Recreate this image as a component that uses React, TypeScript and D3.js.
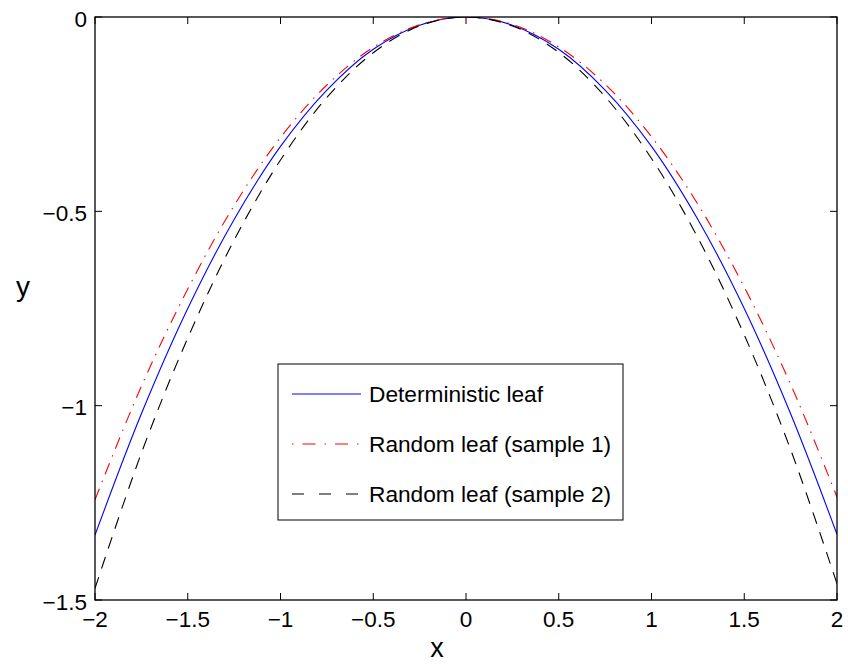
import React from "react";
import * as d3 from "d3";

// sampled x positions
const xs = [-2, -1.75, -1.5, -1.25, -1, -0.75, -0.5, -0.25, 0, 0.25, 0.5, 0.75, 1, 1.25, 1.5, 1.75, 2];

const deterministic = [-1.333, -1.021, -0.75, -0.521, -0.333, -0.188, -0.083, -0.021, 0, -0.021, -0.083, -0.188, -0.333, -0.521, -0.75, -1.021, -1.331];
const sample1 = [-1.242, -0.95, -0.7, -0.485, -0.31, -0.175, -0.078, -0.02, 0, -0.019, -0.077, -0.173, -0.308, -0.482, -0.695, -0.945, -1.235];
const sample2 = [-1.47, -1.122, -0.826, -0.574, -0.368, -0.207, -0.092, -0.023, 0, -0.023, -0.091, -0.205, -0.364, -0.568, -0.818, -1.113, -1.458];

const xTicks = [-2, -1.5, -1, -0.5, 0, 0.5, 1, 1.5, 2];
const yTicks = [0, -0.5, -1, -1.5];

const series = [
  { name: "Deterministic leaf", values: deterministic, color: "#0000ff", dash: "none" },
  { name: "Random leaf (sample 1)", values: sample1, color: "#ff0000", dash: "12,7,1.5,7" },
  { name: "Random leaf (sample 2)", values: sample2, color: "#000000", dash: "12,9" },
];

const fmt = (v: number) => String(v).replace("-", "\u2212");

export default function App() {
  const left = 95, right = 837, top = 17, bottom = 600;
  const x = d3.scaleLinear().domain([-2, 2]).range([left, right]);
  const y = d3.scaleLinear().domain([-1.5, 0]).range([bottom, top]);
  const tick = 7;

  const line = d3
    .line<number>()
    .x((_, i) => x(xs[i]))
    .y((d) => y(d))
    .curve(d3.curveCatmullRom.alpha(0.5));

  const font = "'Liberation Sans', Arial, sans-serif";
  const legX = 278, legY = 364, legW = 345, legH = 156;
  const rowY = [394, 444, 494];

  return (
    <svg
      width={848}
      height={666}
      style={{ position: "absolute", left: 0, top: 0, background: "#fff" }}
      fontFamily={font}
    >
      <rect x={0} y={0} width={848} height={666} fill="#fff" />
      <defs>
        <clipPath id="plot">
          <rect x={left} y={top} width={right - left} height={bottom - top} />
        </clipPath>
      </defs>

      {/* curves */}
      <g clipPath="url(#plot)" fill="none">
        {series.map((s) => (
          <path
            key={s.name}
            d={line(s.values) || ""}
            stroke={s.color}
            strokeWidth={1.1}
            strokeDasharray={s.dash}
          />
        ))}
      </g>

      {/* ticks */}
      <g stroke="#000" strokeWidth={1}>
        {xTicks.map((t) => (
          <g key={"xt" + t}>
            <line x1={x(t)} x2={x(t)} y1={bottom} y2={bottom - tick} />
            <line x1={x(t)} x2={x(t)} y1={top} y2={top + tick} />
          </g>
        ))}
        {yTicks.map((t) => (
          <g key={"yt" + t}>
            <line x1={left} x2={left + tick} y1={y(t)} y2={y(t)} />
            <line x1={right} x2={right - tick} y1={y(t)} y2={y(t)} />
          </g>
        ))}
      </g>

      <rect
        x={left}
        y={top}
        width={right - left}
        height={bottom - top}
        fill="none"
        stroke="#000"
        strokeWidth={1.3}
      />

      {/* tick labels */}
      <g fontSize={22.5} fill="#000">
        {xTicks.map((t) => (
          <text key={"xl" + t} x={x(t)} y={627} textAnchor="middle">
            {fmt(t)}
          </text>
        ))}
        {yTicks.map((t) => (
          <text key={"yl" + t} x={87} y={y(t) + 9.5} textAnchor="end">
            {fmt(t)}
          </text>
        ))}
      </g>

      {/* axis labels */}
      <text x={437} y={657} fontSize={27} textAnchor="middle">x</text>
      <text x={23} y={296} fontSize={28} textAnchor="middle">y</text>

      {/* legend */}
      <rect x={legX} y={legY} width={legW} height={legH} fill="#fff" stroke="#000" strokeWidth={1} />
      {series.map((s, i) => (
        <g key={"lg" + s.name}>
          <line
            x1={292}
            x2={361}
            y1={rowY[i]}
            y2={rowY[i]}
            stroke={s.color}
            strokeWidth={1.1}
            strokeDasharray={i === 1 ? "1.5,9,13,9" : i === 2 ? "12,15" : "none"}
          />
          <text x={369} y={rowY[i] + 8} fontSize={22.7}>
            {s.name}
          </text>
        </g>
      ))}
    </svg>
  );
}
